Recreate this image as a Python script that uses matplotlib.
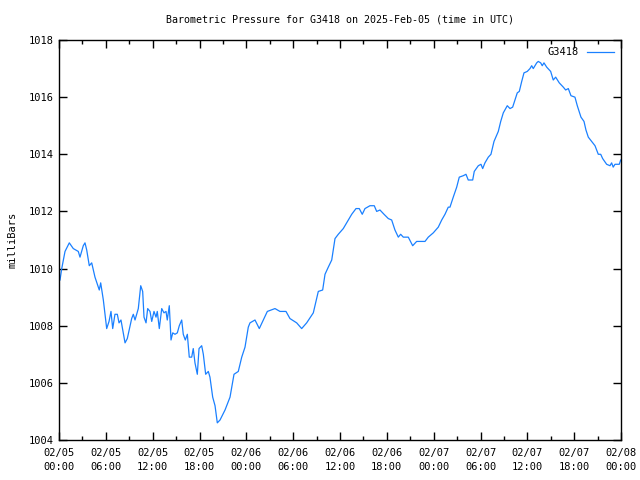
#!/usr/bin/env python3
"""
Barometric pressure for station G3418, gnuplot-like look.
"""

import matplotlib
matplotlib.use('Agg')
import matplotlib.pyplot as plt
from matplotlib.ticker import MultipleLocator, FixedLocator

# hours since 2025-02-05 00:00 UTC
hours = [
    0.13, 0.35, 0.77, 1.32, 1.83, 2.47, 2.69, 3.11, 3.33, 3.55, 3.88, 4.19,
    4.61, 5.16, 5.34, 5.68, 6.11, 6.41, 6.66, 6.88, 7.17, 7.47, 7.69, 7.94,
    8.46, 8.75, 9.31, 9.52, 9.74, 10.16, 10.47, 10.72, 10.89, 11.15, 11.36,
    11.66, 11.88, 12.17, 12.43, 12.59, 12.85, 13.16, 13.45, 13.71, 13.87,
    14.13, 14.35, 14.57, 14.86, 15.16, 15.41, 15.72, 15.92, 16.18, 16.44,
    16.69, 17.0, 17.2, 17.42, 17.72, 17.94, 18.28, 18.49, 18.79, 19.13,
    19.34, 19.69, 19.99, 20.28, 20.63, 21.27, 21.91, 22.42, 22.97, 23.41,
    23.83, 24.25, 24.47, 25.11, 25.66, 26.69, 27.67, 28.31, 29.08, 29.59,
    30.45, 31.09, 31.73, 32.58, 33.22, 33.78, 34.08, 34.5, 34.94, 35.36,
    35.78, 36.42, 37.06, 37.5, 38.05, 38.47, 38.85, 39.2, 39.84, 40.39,
    40.7, 41.12, 41.64, 42.19, 42.62, 43.04, 43.47, 43.77, 44.11, 44.75,
    45.31, 45.82, 46.89, 47.31, 47.95, 48.59, 49.03, 49.45, 49.87, 50.09,
    50.51, 50.95, 51.28, 51.79, 52.14, 52.43, 53.0, 53.2, 53.72, 54.06,
    54.28, 54.57, 55.0, 55.34, 55.73, 56.28, 56.59, 56.92, 57.43, 57.78,
    58.12, 58.42, 58.71, 58.97, 59.28, 59.57, 59.99, 60.34, 60.56, 60.76,
    61.2, 61.4, 61.71, 61.91, 62.13, 62.48, 62.99, 63.32, 63.63, 64.09,
    64.61, 64.91, 65.25, 65.59, 66.1, 66.4, 66.87, 67.26, 67.51, 67.81,
    68.24, 68.67, 69.09, 69.4, 69.65, 70.16, 70.59, 70.8, 71.0, 71.23,
    71.78, 71.96,
]

pressure = [
    1009.6, 1010.0, 1010.6, 1010.9, 1010.7, 1010.6, 1010.4, 1010.8, 1010.9,
    1010.65, 1010.1, 1010.2, 1009.7, 1009.25, 1009.5, 1008.9, 1007.9, 1008.15,
    1008.5, 1007.9, 1008.4, 1008.4, 1008.1, 1008.2, 1007.4, 1007.55, 1008.25,
    1008.4, 1008.2, 1008.6, 1009.4, 1009.2, 1008.3, 1008.1, 1008.6, 1008.5,
    1008.15, 1008.5, 1008.3, 1008.5, 1007.9, 1008.6, 1008.45, 1008.5, 1008.2,
    1008.7, 1007.5, 1007.75, 1007.7, 1007.75, 1008.0, 1008.2, 1007.7, 1007.5,
    1007.7, 1006.9, 1006.9, 1007.2, 1006.7, 1006.3, 1007.2, 1007.3, 1007.0,
    1006.3, 1006.4, 1006.2, 1005.5, 1005.2, 1004.6, 1004.7, 1005.05, 1005.5,
    1006.3, 1006.4, 1006.9, 1007.25, 1007.95, 1008.1, 1008.2, 1007.9, 1008.5,
    1008.6, 1008.5, 1008.5, 1008.25, 1008.1, 1007.9, 1008.1, 1008.45, 1009.2,
    1009.25, 1009.8, 1010.05, 1010.3, 1011.05, 1011.2, 1011.4, 1011.7, 1011.9,
    1012.1, 1012.1, 1011.9, 1012.1, 1012.2, 1012.2, 1012.0, 1012.05, 1011.9,
    1011.75, 1011.7, 1011.35, 1011.1, 1011.2, 1011.1, 1011.1, 1010.8, 1010.95,
    1010.95, 1011.1, 1011.25, 1011.45, 1011.7, 1011.9, 1012.15, 1012.15,
    1012.5, 1012.85, 1013.2, 1013.25, 1013.3, 1013.1, 1013.1, 1013.4, 1013.6,
    1013.65, 1013.5, 1013.7, 1013.9, 1014.0, 1014.45, 1014.8, 1015.15,
    1015.45, 1015.7, 1015.6, 1015.65, 1015.9, 1016.15, 1016.2, 1016.55,
    1016.85, 1016.9, 1017.0, 1017.1, 1017.0, 1017.2, 1017.25, 1017.2, 1017.1,
    1017.2, 1017.05, 1016.9, 1016.6, 1016.7, 1016.5, 1016.35, 1016.25,
    1016.3, 1016.05, 1016.0, 1015.7, 1015.3, 1015.15, 1014.85, 1014.6,
    1014.45, 1014.3, 1014.0, 1014.0, 1013.85, 1013.65, 1013.6, 1013.7,
    1013.55, 1013.65, 1013.65, 1013.8,
]

tick_hours = [0, 6, 12, 18, 24, 30, 36, 42, 48, 54, 60, 66, 72]
tick_labels = [
    '02/05\n00:00', '02/05\n06:00', '02/05\n12:00', '02/05\n18:00',
    '02/06\n00:00', '02/06\n06:00', '02/06\n12:00', '02/06\n18:00',
    '02/07\n00:00', '02/07\n06:00', '02/07\n12:00', '02/07\n18:00',
    '02/08\n00:00',
]
y_ticks = [1004, 1006, 1008, 1010, 1012, 1014, 1016, 1018]

plt.rcParams['font.family'] = ['DejaVu Sans Mono']
plt.rcParams['font.size'] = 7.5

fig = plt.figure(figsize=(6.4, 4.8), dpi=100)
ax = fig.add_axes([59 / 640, 40 / 480, 562 / 640, 400 / 480])

ax.plot(hours, pressure, color='#1a80ff', linewidth=0.9, label='G3418')

ax.set_xlim(0, 72)
ax.set_ylim(1004, 1018)
ax.xaxis.set_major_locator(FixedLocator(tick_hours))
ax.set_xticklabels(tick_labels, linespacing=1.5)
ax.xaxis.set_minor_locator(MultipleLocator(3))
ax.set_yticks(y_ticks)

ax.tick_params(which='both', direction='in', top=True, right=True, width=1)
ax.tick_params(which='major', length=6, pad=4)
ax.tick_params(axis='x', which='major', pad=6)
ax.tick_params(which='minor', length=3)
for side in ax.spines.values():
    side.set_linewidth(1)

ax.set_ylabel('milliBars', labelpad=8)
fig.text(340 / 640, 1 - 20 / 480, 'Barometric Pressure for G3418 on 2025-Feb-05 (time in UTC)',
         ha='center', va='center', fontsize=7.2)

ax.legend(loc='upper right', frameon=False, markerfirst=False, handlelength=2.6,
          borderaxespad=0.3, handletextpad=0.8)

fig.savefig('out.png', dpi=100)
